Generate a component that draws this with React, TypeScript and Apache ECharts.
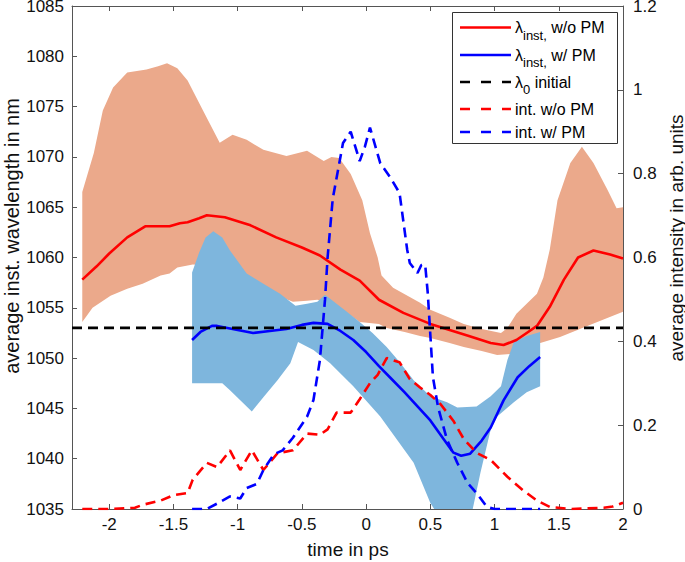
import React, { useEffect, useRef } from "react";
import * as echarts from "echarts";

// ---- axis settings ----
const X_MIN = -2.29;
const X_MAX = 2;
const xTicks = [-2, -1.5, -1, -0.5, 0, 0.5, 1, 1.5, 2];
const LAMBDA_0 = 1053;

// ---- lambda_inst without PM (solid red) ----
const tNoPM = [-2.21, -2.1, -2.0, -1.86, -1.72, -1.53, -1.45, -1.39, -1.3, -1.24, -1.1, -0.9, -0.7, -0.5, -0.36, -0.2, -0.05, 0.1, 0.29, 0.5, 0.65, 0.8, 0.97, 1.07, 1.17, 1.25, 1.33, 1.43, 1.54, 1.65, 1.77, 1.9, 2.0];
const lamNoPM = [1057.8, 1059.1, 1060.4, 1062.0, 1063.1, 1063.1, 1063.4, 1063.5, 1063.9, 1064.2, 1064.0, 1063.2, 1062.0, 1061.0, 1060.2, 1058.8, 1057.7, 1055.8, 1054.5, 1053.4, 1052.8, 1052.2, 1051.5, 1051.3, 1051.8, 1052.5, 1053.2, 1055.1, 1057.8, 1060.0, 1060.7, 1060.3, 1059.9];

// ---- orange band (w/o PM spread) ----
const orUpT = [-2.21, -2.12, -2.05, -1.97, -1.86, -1.71, -1.62, -1.55, -1.47, -1.39, -1.27, -1.14, -1.04, -0.93, -0.8, -0.62, -0.46, -0.33, -0.27, -0.21, -0.12, -0.03, 0.03, 0.09, 0.12, 0.21, 0.42, 0.5, 0.65, 0.76, 0.9, 1.05, 1.1, 1.17, 1.25, 1.33, 1.38, 1.43, 1.49, 1.59, 1.68, 1.77, 1.88, 1.95, 2.0];
const orUp = [1066.5, 1070.4, 1074.6, 1076.9, 1078.4, 1078.7, 1079.0, 1079.3, 1078.8, 1077.6, 1074.6, 1071.4, 1072.2, 1071.7, 1070.7, 1070.1, 1070.6, 1069.6, 1070.0, 1069.9, 1068.3, 1065.7, 1062.4, 1060.0, 1058.2, 1057.0, 1055.5, 1054.8, 1054.0, 1053.4, 1052.9, 1052.5, 1053.0, 1054.4, 1055.4, 1056.4, 1058.0, 1060.8, 1065.7, 1069.4, 1071.0, 1069.4, 1066.7, 1064.9, 1065.0];
const orLoT = [-2.21, -2.13, -1.99, -1.86, -1.74, -1.6, -1.53, -1.47, -1.35, -1.2, -1.0, -0.8, -0.65, -0.57, -0.46, -0.38, -0.3, -0.15, -0.05, 0.1, 0.16, 0.3, 0.42, 0.5, 0.65, 0.76, 0.9, 1.02, 1.12, 1.22, 1.33, 1.51, 1.8, 2.0];
const orLo = [1053.6, 1055.0, 1056.2, 1056.9, 1057.4, 1058.2, 1058.4, 1059.0, 1059.3, 1059.2, 1058.3, 1057.0, 1056.0, 1055.6, 1055.7, 1055.8, 1055.5, 1054.5, 1053.6, 1053.4, 1053.0, 1052.6, 1052.2, 1052.0, 1051.5, 1051.1, 1050.7, 1050.3, 1050.4, 1050.9, 1051.4, 1052.1, 1053.6, 1054.6];

// ---- lambda_inst with PM (solid blue) ----
const tPM = [-1.355, -1.29, -1.2, -1.16, -1.0, -0.88, -0.75, -0.62, -0.5, -0.41, -0.3, -0.2, -0.1, 0.0, 0.1, 0.2, 0.3, 0.4, 0.5, 0.6, 0.68, 0.74, 0.81, 0.9, 0.97, 1.07, 1.18, 1.27, 1.355];
const lamPM = [1051.8, 1052.6, 1053.2, 1053.2, 1052.8, 1052.5, 1052.7, 1052.9, 1053.3, 1053.5, 1053.4, 1052.7, 1051.8, 1050.6, 1049.2, 1047.9, 1046.6, 1045.2, 1043.8, 1042.0, 1040.6, 1040.3, 1040.5, 1041.8, 1043.1, 1045.8, 1048.1, 1049.2, 1050.1];

// ---- blue band (w/ PM spread) ----
const blUpT = [-1.355, -1.3, -1.25, -1.19, -1.12, -1.06, -0.93, -0.8, -0.67, -0.55, -0.46, -0.38, -0.32, -0.28, -0.23, -0.15, -0.05, 0.05, 0.16, 0.26, 0.37, 0.5, 0.63, 0.71, 0.86, 0.97, 1.05, 1.1, 1.15, 1.25, 1.355];
const blUp = [1058.5, 1060.5, 1062.0, 1062.6, 1062.0, 1060.7, 1058.4, 1057.4, 1056.4, 1055.2, 1055.4, 1055.6, 1056.3, 1055.9, 1055.4, 1054.6, 1053.6, 1052.5, 1051.1, 1049.6, 1047.8, 1046.2, 1045.6, 1045.1, 1045.2, 1046.2, 1047.2, 1049.8, 1051.6, 1052.2, 1052.6];
const blLoT = [-1.355, -1.12, -1.06, -0.98, -0.89, -0.8, -0.69, -0.59, -0.53, -0.41, -0.28, -0.1, 0.11, 0.37, 0.5, 0.53, 0.83, 0.89, 0.97, 1.02, 1.15, 1.25, 1.355];
const blLo = [1047.5, 1047.5, 1046.8, 1045.8, 1044.7, 1046.1, 1047.8, 1049.5, 1051.6, 1050.8, 1049.5, 1047.2, 1044.2, 1039.6, 1035.6, 1035.0, 1035.0, 1038.6, 1042.9, 1044.2, 1045.6, 1046.6, 1047.2];

// ---- intensity without PM (dashed red) ----
const tIntNoPM = [-2.21, -2.0, -1.8, -1.74, -1.6, -1.5, -1.39, -1.35, -1.24, -1.16, -1.06, -0.98, -0.89, -0.8, -0.69, -0.57, -0.46, -0.36, -0.3, -0.23, -0.12, -0.05, 0.03, 0.09, 0.16, 0.26, 0.34, 0.42, 0.5, 0.58, 0.68, 0.76, 0.86, 0.97, 1.1, 1.22, 1.33, 1.43, 1.6, 1.85, 1.92, 2.0];
const intNoPM = [0.0, 0.0, 0.003, 0.01, 0.02, 0.033, 0.038, 0.07, 0.11, 0.1, 0.14, 0.093, 0.14, 0.093, 0.133, 0.14, 0.18, 0.177, 0.19, 0.23, 0.23, 0.262, 0.3, 0.32, 0.36, 0.35, 0.31, 0.29, 0.272, 0.25, 0.21, 0.167, 0.134, 0.117, 0.077, 0.045, 0.02, 0.005, 0.0, 0.003, 0.006, 0.015];

// ---- intensity with PM (dashed blue) ----
const tIntPM = [-1.355, -1.24, -1.16, -1.06, -0.98, -0.93, -0.85, -0.8, -0.72, -0.65, -0.57, -0.46, -0.41, -0.36, -0.32, -0.3, -0.26, -0.18, -0.12, -0.07, -0.05, -0.01, 0.03, 0.11, 0.19, 0.26, 0.32, 0.34, 0.4, 0.43, 0.46, 0.48, 0.52, 0.56, 0.63, 0.71, 0.79, 0.86, 0.94, 1.0, 1.355];
const intPM = [0.0, 0.0, 0.013, 0.03, 0.025, 0.05, 0.06, 0.093, 0.13, 0.14, 0.17, 0.22, 0.26, 0.355, 0.5, 0.6, 0.74, 0.873, 0.9, 0.85, 0.83, 0.864, 0.91, 0.825, 0.79, 0.754, 0.618, 0.587, 0.563, 0.582, 0.582, 0.515, 0.315, 0.243, 0.165, 0.11, 0.062, 0.038, 0.005, 0.0, 0.0];

// ---- legend entries ----
const legendLabels = [
  "{l|λ}{s|inst,}{t| w/o PM}",
  "{l|λ}{s|inst,}{t| w/ PM}",
  "{l|λ}{s|0}{t| initial}",
  "{t|int. w/o PM}",
  "{t|int. w/ PM}",
];
const legendColors = ["#FF0000", "#0000FF", "#000000", "#FF0000", "#0000FF"];
const legendDashed = [false, false, true, true, true];

const FONT = "'Liberation Sans', Arial, Helvetica, sans-serif";
const AXIS_COLOR = "#555555";
const TEXT_COLOR = "#111111";

const zip = (t: number[], v: number[]) => t.map((x, i) => [x, v[i]]);

const bandSeries = (upT: number[], up: number[], loT: number[], lo: number[], color: string) => ({
  type: "custom",
  xAxisIndex: 0,
  yAxisIndex: 0,
  clip: true,
  silent: true,
  z: 1,
  data: [[upT[0], up[0]]],
  renderItem: (params: any, api: any) => {
    const pts: number[][] = [];
    for (let i = 0; i < upT.length; i++) pts.push(api.coord([upT[i], up[i]]));
    for (let i = loT.length - 1; i >= 0; i--) pts.push(api.coord([loT[i], lo[i]]));
    return { type: "polygon", shape: { points: pts }, style: { fill: color } };
  },
});

const buildLegend = () => {
  const rowY = [27.5, 55, 82, 109, 132];
  const els: any[] = [
    {
      type: "rect",
      z: 100,
      silent: true,
      shape: { x: 452.5, y: 12.5, width: 165, height: 131 },
      style: { fill: "#ffffff", stroke: "#333333", lineWidth: 1 },
    },
  ];
  legendLabels.forEach((label, i) => {
    els.push({
      type: "line",
      z: 101,
      silent: true,
      shape: { x1: 460, y1: rowY[i], x2: 511, y2: rowY[i] },
      style: { stroke: legendColors[i], lineWidth: 2.6, lineDash: legendDashed[i] ? [10, 11] : null },
    });
    els.push({
      type: "text",
      z: 101,
      silent: true,
      x: 515,
      y: rowY[i],
      style: {
        text: label,
        align: "left",
        verticalAlign: "middle",
        fontFamily: FONT,
        fill: "#000",
        rich: {
          t: { fontSize: 16, lineHeight: 28, verticalAlign: "middle", fontFamily: FONT, fill: "#000" },
          l: { fontSize: 16, lineHeight: 28, verticalAlign: "middle", fontFamily: FONT, fill: "#000" },
          s: { fontSize: 13, lineHeight: 13, verticalAlign: "bottom", fontFamily: FONT, fill: "#000" },
        },
      },
    });
  });
  return els;
};

export default function App() {
  const ref = useRef<HTMLDivElement>(null);
  useEffect(() => {
    if (!ref.current) return;
    const chart = echarts.init(ref.current, null, { renderer: "svg" });
    const dash = [10, 6];
    const option: any = {
      animation: false,
      backgroundColor: "#ffffff",
      textStyle: { fontFamily: FONT },
      grid: { left: 72, right: 62, top: 6, bottom: 53, outerBoundsMode: "none" },
      xAxis: [
        {
          type: "value",
          min: X_MIN,
          max: X_MAX,
          position: "bottom",
          axisLine: { show: true, onZero: false, lineStyle: { color: AXIS_COLOR, width: 1 } },
          axisTick: { show: true, inside: true, length: 5, customValues: xTicks, lineStyle: { color: AXIS_COLOR } },
          axisLabel: { show: true, customValues: xTicks, fontSize: 17, color: TEXT_COLOR, margin: 7, fontFamily: FONT },
          splitLine: { show: false },
        },
        {
          type: "value",
          min: X_MIN,
          max: X_MAX,
          position: "top",
          axisLine: { show: true, onZero: false, lineStyle: { color: AXIS_COLOR, width: 1 } },
          axisTick: { show: true, inside: true, length: 5, customValues: xTicks, lineStyle: { color: AXIS_COLOR } },
          axisLabel: { show: false },
          splitLine: { show: false },
        },
      ],
      yAxis: [
        {
          type: "value",
          min: 1035,
          max: 1085,
          interval: 5,
          position: "left",
          axisLine: { show: true, onZero: false, lineStyle: { color: AXIS_COLOR, width: 1 } },
          axisTick: { show: true, inside: true, length: 5, lineStyle: { color: AXIS_COLOR } },
          axisLabel: { fontSize: 17, color: TEXT_COLOR, margin: 8, fontFamily: FONT, formatter: (v: number) => String(v) },
          splitLine: { show: false },
        },
        {
          type: "value",
          min: 0,
          max: 1.2,
          interval: 0.2,
          position: "right",
          axisLine: { show: true, onZero: false, lineStyle: { color: AXIS_COLOR, width: 1 } },
          axisTick: { show: true, inside: true, length: 5, lineStyle: { color: AXIS_COLOR } },
          axisLabel: { fontSize: 17, color: TEXT_COLOR, margin: 10, fontFamily: FONT },
          splitLine: { show: false },
        },
      ],
      graphic: [
        {
          type: "text",
          x: 12,
          y: 236,
          rotation: Math.PI / 2,
          silent: true,
          style: { text: "average inst. wavelength in nm", fontSize: 20, fontFamily: FONT, fill: TEXT_COLOR, align: "center", verticalAlign: "middle" },
        },
        {
          type: "text",
          x: 676,
          y: 238,
          rotation: Math.PI / 2,
          silent: true,
          style: { text: "average intensity in arb. units", fontSize: 19, fontFamily: FONT, fill: TEXT_COLOR, align: "center", verticalAlign: "middle" },
        },
        {
          type: "text",
          x: 348,
          y: 549,
          silent: true,
          style: { text: "time in ps", fontSize: 19, fontFamily: FONT, fill: TEXT_COLOR, align: "center", verticalAlign: "middle" },
        },
        ...buildLegend(),
      ],
      series: [
        bandSeries(orUpT, orUp, orLoT, orLo, "#EBA98B"),
        bandSeries(blUpT, blUp, blLoT, blLo, "#7EB6DD"),
        {
          name: "λinst, w/o PM",
          type: "line",
          xAxisIndex: 0,
          yAxisIndex: 0,
          symbol: "none",
          z: 3,
          data: zip(tNoPM, lamNoPM),
          lineStyle: { color: "#FF0000", width: 2.6 },
          itemStyle: { color: "#FF0000" },
        },
        {
          name: "λinst, w/ PM",
          type: "line",
          xAxisIndex: 0,
          yAxisIndex: 0,
          symbol: "none",
          z: 3,
          data: zip(tPM, lamPM),
          lineStyle: { color: "#0000FF", width: 2.6 },
          itemStyle: { color: "#0000FF" },
        },
        {
          name: "λ0 initial",
          type: "line",
          xAxisIndex: 0,
          yAxisIndex: 0,
          symbol: "none",
          z: 3,
          data: [[X_MIN, LAMBDA_0], [X_MAX, LAMBDA_0]],
          lineStyle: { color: "#000000", width: 2.6, type: dash },
          itemStyle: { color: "#000000" },
        },
        {
          name: "int. w/o PM",
          type: "line",
          xAxisIndex: 0,
          yAxisIndex: 1,
          symbol: "none",
          z: 3,
          data: zip(tIntNoPM, intNoPM),
          lineStyle: { color: "#FF0000", width: 2.6, type: dash },
          itemStyle: { color: "#FF0000" },
        },
        {
          name: "int. w/ PM",
          type: "line",
          xAxisIndex: 0,
          yAxisIndex: 1,
          symbol: "none",
          z: 3,
          data: zip(tIntPM, intPM),
          lineStyle: { color: "#0000FF", width: 2.6, type: dash },
          itemStyle: { color: "#0000FF" },
        },
      ],
    };
    chart.setOption(option);
    return () => chart.dispose();
  }, []);
  return <div ref={ref} style={{ position: "fixed", left: 0, top: 0, width: 685, height: 562 }} />;
}
